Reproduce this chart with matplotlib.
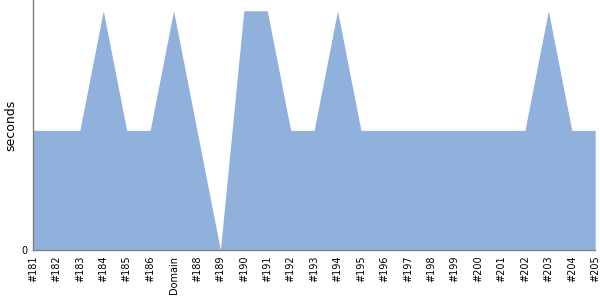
import numpy as np
import matplotlib
matplotlib.use("Agg")
from matplotlib import pyplot as plt

# builds along the x axis and their times
etiquetas = ['#181', '#182', '#183', '#184', '#185', '#186', 'Domain', '#188',
             '#189', '#190', '#191', '#192', '#193', '#194', '#195', '#196',
             '#197', '#198', '#199', '#200', '#201', '#202', '#203', '#204', '#205']
segundos = [1, 1, 1, 2, 1, 1, 2, 1, 0, 2, 2, 1, 1, 2, 1, 1,
            1, 1, 1, 1, 1, 1, 2, 1, 1]

x = np.arange(len(etiquetas))

fig = plt.figure(figsize=(6, 3), dpi=100)
ax = fig.add_axes([0.055, 0.1667, 0.937, 0.8333])

ax.fill_between(x, segundos, 0, color='#8fb1db', linewidth=0)

ax.set_xlim(0, len(etiquetas) - 1)
ax.set_ylim(0, 2.09)
ax.set_xticks(x)
ax.set_xticklabels(etiquetas, rotation=90, fontsize=7)
ax.set_yticks([0])
ax.set_yticklabels(['0'], fontsize=7)
ax.tick_params(length=0, pad=4)
ax.set_ylabel('seconds', fontsize=9, labelpad=3)

for lado in ['top', 'right']:
    ax.spines[lado].set_visible(False)
for lado in ['left', 'bottom']:
    ax.spines[lado].set_color('#808080')
    ax.spines[lado].set_linewidth(1)

fig.savefig('out.png', dpi=100)
